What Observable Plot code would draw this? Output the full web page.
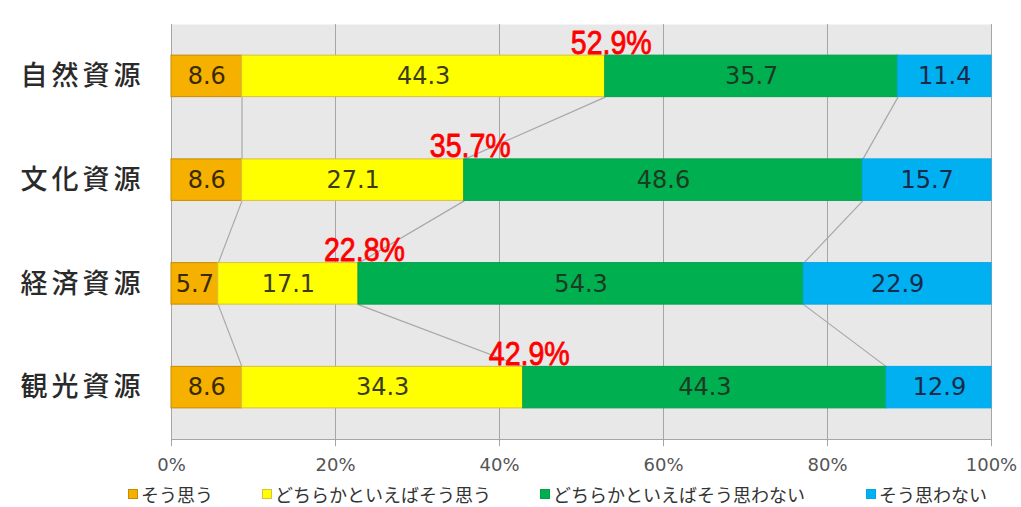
<!DOCTYPE html>
<html><head><meta charset="utf-8">
<script src="https://cdn.jsdelivr.net/npm/d3@7"></script>
<script src="https://cdn.jsdelivr.net/npm/@observablehq/plot@0.6"></script>
<style>
body{margin:0;background:#fff;width:1021px;height:507px;overflow:hidden;position:relative}
.cat text{letter-spacing:4px}
#legend{position:absolute;left:0;top:481px;width:1021px;height:26px;font-family:"Noto Sans CJK JP",sans-serif;font-size:18px;color:#333}
.item{position:absolute;top:0;display:flex;align-items:center;white-space:nowrap;height:26px;line-height:22px}
.sw{width:8px;height:8px;margin-right:3px;border:1px solid}
</style></head><body>
<div id="chart"></div><div id="legend"></div>
<script>
const categories = ["自然資源","文化資源","経済資源","観光資源"];
const seriesNames = ["そう思う","どちらかといえばそう思う","どちらかといえばそう思わない","そう思わない"];
const soOmou = [8.6, 8.6, 5.7, 8.6];
const dochiraOmou = [44.3, 27.1, 17.1, 34.3];
const dochiraOmowanai = [35.7, 48.6, 54.3, 44.3];
const omowanai = [11.4, 15.7, 22.9, 12.9];
const xTicks = [0, 20, 40, 60, 80, 100];
const colors = ["#F5B000", "#FFFF00", "#00B050", "#00B0F0"];
const borders = ["#C88A00", "#D8C040", "#00A048", "#00A8E8"];
const textColors = ["#3a2a00", "#3b3b1a", "#1d3a22", "#1a2a48"];

const series = [soOmou, dochiraOmou, dochiraOmowanai, omowanai];
const half = 0.2;
const rows = [];
const cums = [];
categories.forEach((c, i) => {
  let acc = 0; const cum = [0];
  series.forEach((arr, k) => {
    const v = arr[i];
    rows.push({i, k, x1: acc, x2: acc + v, v});
    acc += v; cum.push(acc);
  });
  cums.push(cum);
});
const links = [];
for (let i = 0; i < categories.length - 1; i++) {
  for (let k = 1; k <= 3; k++) {
    links.push({x1: cums[i][k], y1: i + half, x2: cums[i + 1][k], y2: i + 1 - half});
  }
}
const redLabels = categories.map((c, i) => ({i, x: cums[i][2], text: (soOmou[i] + dochiraOmou[i]).toFixed(1) + "%"}));

const chart = Plot.plot({
  width: 1021, height: 480,
  marginLeft: 171, marginRight: 30, marginTop: 24, marginBottom: 41,
  x: {domain: [0, 100], axis: null, clamp: true},
  y: {domain: [3.5, -0.5], axis: null},
  style: {background: "transparent"},
  marks: [
    Plot.frame({fill: "#e8e8e8", stroke: null}),
    Plot.ruleX(xTicks, {stroke: "#a6a6a6", strokeWidth: 1}),
    Plot.ruleX(xTicks, {y1: 3.5, y2: 3.57, stroke: "#a6a6a6", strokeWidth: 1}),
    Plot.ruleY([3.5], {stroke: "#a6a6a6", strokeWidth: 1}),
    Plot.link(links, {x1: "x1", y1: "y1", x2: "x2", y2: "y2", stroke: "#a8a8a8", strokeWidth: 1.2}),
    Plot.rect(rows, {x1: "x1", x2: "x2", y1: d => d.i - half, y2: d => d.i + half,
      fill: d => colors[d.k], stroke: d => borders[d.k], strokeWidth: 1}),
    Plot.text(rows, {x: d => (d.x1 + d.x2) / 2, y: "i", text: d => d.v.toFixed(1),
      fill: d => textColors[d.k], fontSize: 24, fontFamily: "DejaVu Sans"}),
    Plot.text(categories, {x: 0, y: (d, i) => i, text: d => d, textAnchor: "end", dx: -27,
      fontSize: 27, fill: "#2a2a2a", fontFamily: "Noto Sans CJK JP", fontWeight: 500, className: "cat"}),
    Plot.text(redLabels, {x: "x", y: d => d.i - half, text: "text", lineAnchor: "bottom", dx: 6, dy: -2,
      fill: "#ff0000", stroke: "#ff0000", strokeWidth: 0.8, fontSize: 33, fontWeight: "normal",
      fontFamily: "Liberation Sans Narrow, Liberation Sans, sans-serif", className: "red"}),
    Plot.text(xTicks, {x: d => d, y: 3.5, dy: 26, text: d => d + "%", fill: "#555", fontSize: 18,
      fontFamily: "DejaVu Sans, sans-serif"})
  ]
});
document.getElementById("chart").appendChild(chart);
d3.select(chart).selectAll(".red text").attr("textLength", 81).attr("lengthAdjust", "spacingAndGlyphs");

const lpos = [128, 262, 540, 866];
const legend = document.getElementById("legend");
seriesNames.forEach((n, k) => {
  const it = document.createElement("div");
  it.className = "item";
  it.style.left = lpos[k] + "px";
  const sw = document.createElement("span");
  sw.className = "sw";
  sw.style.background = colors[k];
  sw.style.borderColor = borders[k];
  const t = document.createElement("span");
  t.textContent = n;
  it.appendChild(sw); it.appendChild(t);
  legend.appendChild(it);
});
</script>
</body></html>
